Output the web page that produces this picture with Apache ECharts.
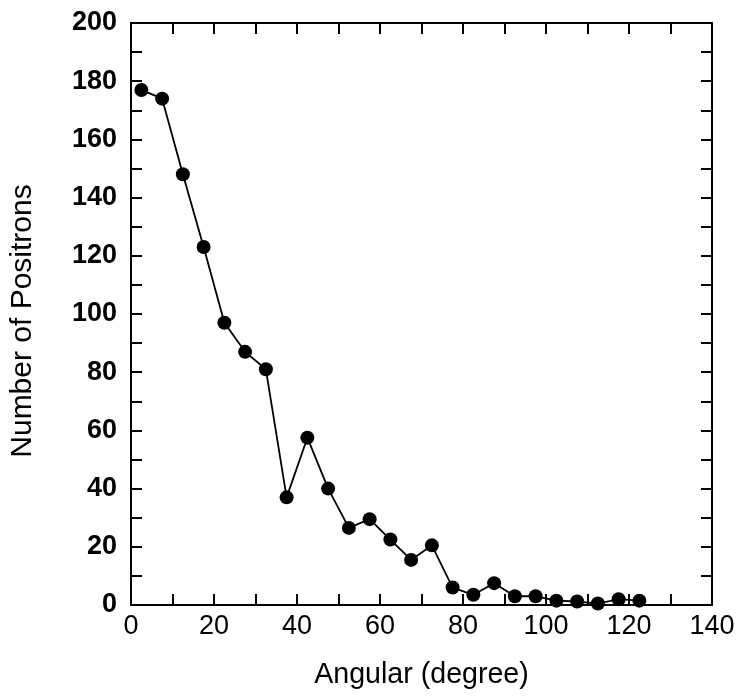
<!DOCTYPE html>
<html><head><meta charset="utf-8">
<script src="https://cdn.jsdelivr.net/npm/echarts@6/dist/echarts.min.js"></script>
<style>html,body{margin:0;padding:0;background:#fff}#c{width:741px;height:698px}</style>
</head><body><div id="c"></div>
<script>
const angles = [2.5,7.5,12.5,17.5,22.5,27.5,32.5,37.5,42.5,47.5,52.5,57.5,62.5,67.5,72.5,77.5,82.5,87.5,92.5,97.5,102.5,107.5,112.5,117.5,122.5];
const counts = [177,174,148,123,97,87,81,37,57.5,40,26.5,29.5,22.5,15.5,20.5,6,3.5,7.5,3,3,1.5,1.2,0.5,2,1.5];
const xTitle = 'Angular (degree)';
const yTitle = 'Number of Positrons';

const font = 'Liberation Sans, Arial, sans-serif';
function axisLine(){ return {show:true, onZero:false, lineStyle:{color:'#000', width:2}}; }
function tick(){ return {show:true, inside:true, length:11, lineStyle:{color:'#000', width:2}}; }
const chart = echarts.init(document.getElementById('c'));
chart.setOption({
  animation:false,
  grid:{left:130, right:29, top:23, bottom:93, show:false},
  xAxis:[{
    type:'value', min:0, max:140, interval:10, position:'bottom',
    axisLine:axisLine(), axisTick:tick(), splitLine:{show:false},
    axisLabel:{color:'#000', fontFamily:font, fontSize:27, margin:8,
      formatter:v=> v%20===0 ? String(v) : ''},
    name:xTitle, nameLocation:'middle', nameGap:56,
    nameTextStyle:{color:'#000', fontFamily:font, fontSize:28.6}
  },{
    type:'value', min:0, max:140, interval:10, position:'top',
    axisLine:axisLine(), axisTick:tick(), splitLine:{show:false},
    axisLabel:{show:false}
  }],
  yAxis:[{
    type:'value', min:0, max:200, interval:10, position:'left',
    axisLine:axisLine(), axisTick:tick(), splitLine:{show:false},
    axisLabel:{color:'#000', fontFamily:font, fontSize:27, fontWeight:'bold', margin:14,
      formatter:v=> v%20===0 ? String(v) : ''},
    name:yTitle, nameLocation:'middle', nameGap:93,
    nameTextStyle:{color:'#000', fontFamily:font, fontSize:30, padding:[0,14,0,0]}
  },{
    type:'value', min:0, max:200, interval:10, position:'right',
    axisLine:axisLine(), axisTick:tick(), splitLine:{show:false},
    axisLabel:{show:false}
  }],
  series:[{
    type:'line', data:angles.map((a,i)=>[a,counts[i]]),
    symbol:'circle', symbolSize:14,
    itemStyle:{color:'#000'}, lineStyle:{color:'#000', width:1.8}
  }]
});
</script></body></html>
